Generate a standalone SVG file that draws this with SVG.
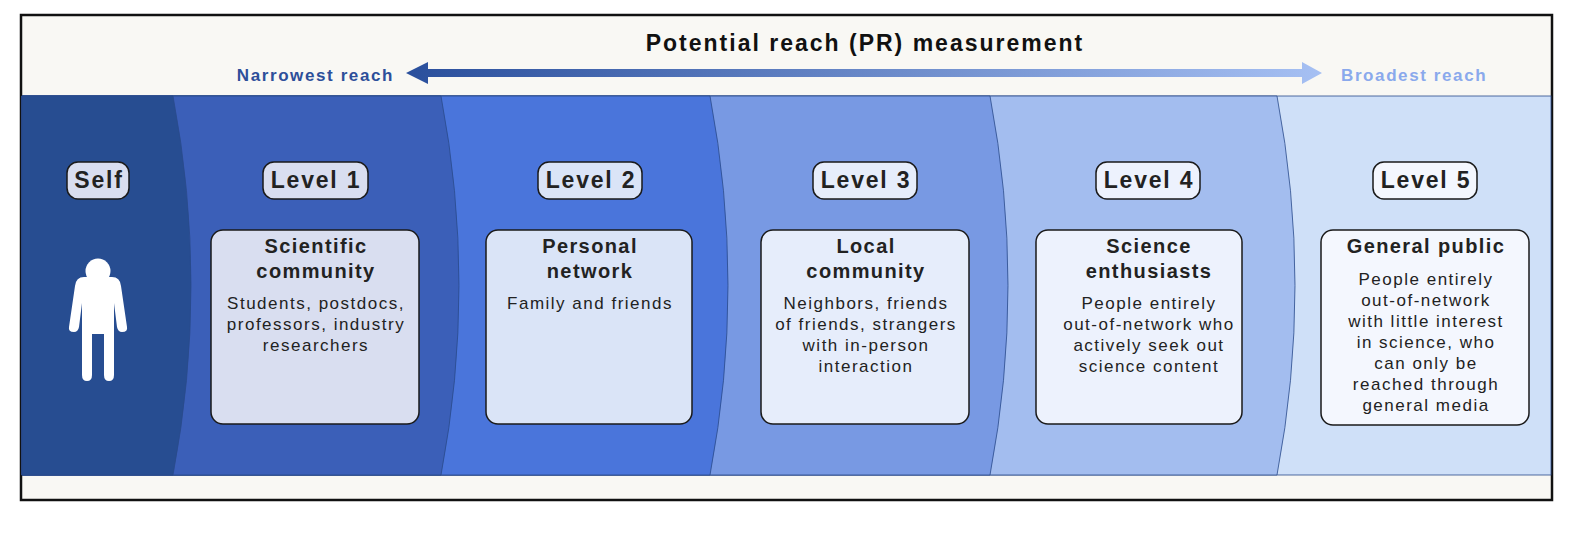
<svg xmlns="http://www.w3.org/2000/svg" width="1580" height="546" viewBox="0 0 1580 546">
<defs>
<linearGradient id="g" x1="0" x2="1" y1="0" y2="0"><stop offset="0" stop-color="#2a4f9c"/><stop offset="1" stop-color="#a6c0f3"/></linearGradient>
<style>
.band{stroke:#2a4a8a;stroke-width:0.8}
.pill{stroke:#1a1a1a;stroke-width:1.5}
.box{stroke:#1a1a1a;stroke-width:1.5}
.lv{font-family:"Liberation Sans",Arial,sans-serif;font-weight:bold;font-size:23px;letter-spacing:1.8px;fill:#222;text-anchor:middle}
.t{font-family:"Liberation Sans",Arial,sans-serif;font-weight:bold;font-size:20px;letter-spacing:1.4px;fill:#222;text-anchor:middle}
.b{font-family:"Liberation Sans",Arial,sans-serif;font-size:17px;letter-spacing:1.5px;fill:#222;text-anchor:middle}
</style>
</defs>
<rect x="0" y="0" width="1580" height="546" fill="#fff"/>
<rect x="21" y="15" width="1531" height="485" fill="#f9f8f4" stroke="#111" stroke-width="2.5"/>
<g id="bands">
<rect class="band" x="22" y="96" width="1529" height="379" fill="#cfe0f8"/>
<path class="band" d="M22,96 L1277,96 Q1313,285.5 1277,475 L22,475 Z" fill="#a3bdef"/>
<path class="band" d="M22,96 L990,96 Q1026,285.5 990,475 L22,475 Z" fill="#7899e3"/>
<path class="band" d="M22,96 L710,96 Q746,285.5 710,475 L22,475 Z" fill="#4a75db"/>
<path class="band" d="M22,96 L441,96 Q477,285.5 441,475 L22,475 Z" fill="#3b5fb8"/>
<path class="band" d="M22,96 L173,96 Q209,285.5 173,475 L22,475 Z" fill="#274d91"/>
</g>
<g id="header">
<text x="865" y="51" font-family="Liberation Sans,Arial,sans-serif" font-weight="bold" font-size="23" letter-spacing="2" fill="#111" text-anchor="middle">Potential reach (PR) measurement</text>
<text x="394" y="81" font-family="Liberation Sans,Arial,sans-serif" font-weight="bold" font-size="17" letter-spacing="1.6" fill="#2d4f9a" text-anchor="end">Narrowest reach</text>
<text x="1341" y="81" font-family="Liberation Sans,Arial,sans-serif" font-weight="bold" font-size="17" letter-spacing="1.6" fill="#8aa9ec">Broadest reach</text>
</g>
<g id="connectors">
<path d="M428,69 L1302,69 L1302,62 L1322,73 L1302,84 L1302,77 L428,77 L428,84 L406,73 L428,62 Z" fill="url(#g)"/>
</g>
<g id="self">
<rect class="pill" x="67" y="162" width="62" height="37" rx="11" fill="#d9def0"/>
<text class="lv" x="99" y="188">Self</text>
<circle cx="98" cy="271" r="12.5" fill="#fff"/>
<path d="M84,277 L112,277 Q120,277 121,286 L127,327 Q128,332 122,332 Q118,332 117,327 L114,303 L114,375 Q114,381 109,381 Q104,381 104,375 L104,334 L92,334 L92,375 Q92,381 87,381 Q82,381 82,375 L82,303 L79,327 Q78,332 74,332 Q68,332 69,327 L75,286 Q76,277 84,277 Z" fill="#fff"/>
</g>
<g id="level1">
<rect class="pill" x="263" y="162" width="105" height="37" rx="11" fill="#d9def0"/>
<text class="lv" x="316" y="188">Level 1</text>
<rect class="box" x="211" y="230" width="208" height="194" rx="12" fill="#d9def0"/>
<text class="t" x="316" y="253">Scientific</text>
<text class="t" x="316" y="278">community</text>
<text class="b" x="316" y="309">Students, postdocs,</text>
<text class="b" x="316" y="330">professors, industry</text>
<text class="b" x="316" y="351">researchers</text>
</g>
<g id="level2">
<rect class="pill" x="538" y="162" width="104" height="37" rx="11" fill="#dae4f7"/>
<text class="lv" x="591" y="188">Level 2</text>
<rect class="box" x="486" y="230" width="206" height="194" rx="12" fill="#dae4f7"/>
<text class="t" x="590" y="253">Personal</text>
<text class="t" x="590" y="278">network</text>
<text class="b" x="590" y="309">Family and friends</text>
</g>
<g id="level3">
<rect class="pill" x="813" y="162" width="104" height="37" rx="11" fill="#e6edfb"/>
<text class="lv" x="866" y="188">Level 3</text>
<rect class="box" x="761" y="230" width="208" height="194" rx="12" fill="#e6edfb"/>
<text class="t" x="866" y="253">Local</text>
<text class="t" x="866" y="278">community</text>
<text class="b" x="866" y="309">Neighbors, friends</text>
<text class="b" x="866" y="330">of friends, strangers</text>
<text class="b" x="866" y="351">with in-person</text>
<text class="b" x="866" y="372">interaction</text>
</g>
<g id="level4">
<rect class="pill" x="1096" y="162" width="104" height="37" rx="11" fill="#edf2fd"/>
<text class="lv" x="1149" y="188">Level 4</text>
<rect class="box" x="1036" y="230" width="206" height="194" rx="12" fill="#edf2fd"/>
<text class="t" x="1149" y="253">Science</text>
<text class="t" x="1149" y="278">enthusiasts</text>
<text class="b" x="1149" y="309">People entirely</text>
<text class="b" x="1149" y="330">out-of-network who</text>
<text class="b" x="1149" y="351">actively seek out</text>
<text class="b" x="1149" y="372">science content</text>
</g>
<g id="level5">
<rect class="pill" x="1373" y="162" width="104" height="37" rx="11" fill="#f4f7fe"/>
<text class="lv" x="1426" y="188">Level 5</text>
<rect class="box" x="1321" y="230" width="208" height="195" rx="12" fill="#f4f7fe"/>
<text class="t" x="1426" y="253">General public</text>
<text class="b" x="1426" y="285">People entirely</text>
<text class="b" x="1426" y="306">out-of-network</text>
<text class="b" x="1426" y="327">with little interest</text>
<text class="b" x="1426" y="348">in science, who</text>
<text class="b" x="1426" y="369">can only be</text>
<text class="b" x="1426" y="390">reached through</text>
<text class="b" x="1426" y="411">general media</text>
</g>
</svg>
